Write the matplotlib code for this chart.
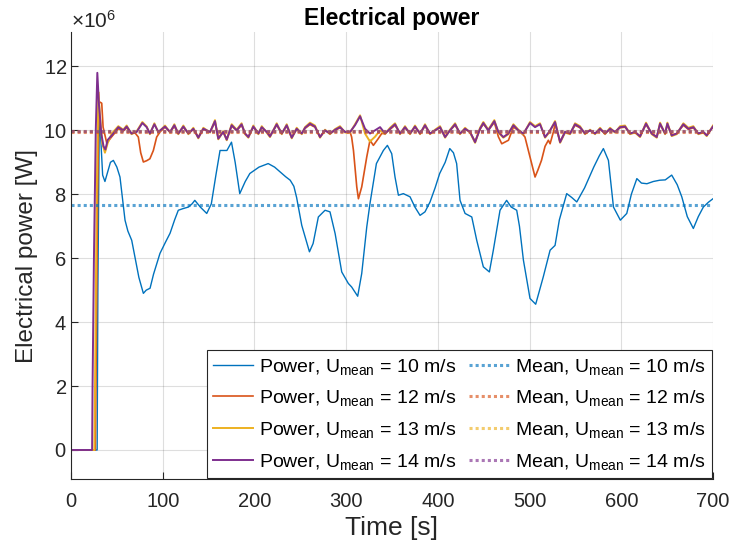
"""
Electrical power of the turbine for four mean wind speeds.
Values are in MW (scaled by 1e6 when drawn).
"""

import numpy as np
import matplotlib
matplotlib.use('Agg')
import matplotlib.pyplot as plt
from matplotlib.ticker import ScalarFormatter

# ─── Data ─────────────────────────────────────────────────────────────────────
# U_mean = 10 m/s
t10 = [0, 28.5, 29.3, 30.9, 32.5, 34.5, 37, 40, 43, 46.2, 50, 53.4, 56, 58.9,
       62, 66.2, 70, 74, 78.9, 82, 86.2, 90, 97, 103, 108, 113, 117, 122, 128,
       132, 135, 141, 148, 153, 158, 162.5, 170, 175, 179, 184, 190, 195, 205,
       215, 222, 228, 234, 239, 243, 246, 251.6, 256, 260, 264, 269.7, 277,
       282.4, 288, 295.2, 302.4, 306, 312.6, 317, 322.5, 326, 333, 340.6, 345,
       349.7, 353.3, 357, 362.4, 369.7, 375, 380.6, 386, 391.5, 397, 402, 408,
       413, 417, 420.5, 424.2, 429.7, 437, 442.4, 449.6, 456.2, 460.5, 467.8,
       475, 480, 486, 489, 493.3, 500.5, 506.7, 515, 522.4, 527.8, 532.5,
       540.5, 546, 551.5, 560, 570, 576, 580.5, 586, 591.5, 599, 606, 611, 617,
       622, 628, 635, 642, 648, 655, 661, 666, 672, 678.6, 684, 689.5, 695, 700]
p10 = [0, 0, 5.0, 10.5, 9.7, 8.6, 8.4, 8.7, 9.0, 9.06, 8.85, 8.54, 7.9, 7.19,
       6.85, 6.56, 6.0, 5.4, 4.9, 5.0, 5.06, 5.5, 6.15, 6.5, 6.78, 7.2, 7.5,
       7.55, 7.6, 7.7, 7.81, 7.6, 7.4, 7.7, 8.6, 9.37, 9.37, 9.63, 9.0, 8.02,
       8.4, 8.65, 8.85, 8.96, 8.85, 8.7, 8.55, 8.44, 8.25, 7.9, 7.03, 6.6, 6.2,
       6.46, 7.29, 7.5, 7.45, 6.77, 5.57, 5.21, 5.1, 4.81, 5.52, 6.98, 7.71,
       8.96, 9.37, 9.53, 9.27, 8.54, 7.97, 8.02, 7.92, 7.6, 7.34, 7.45, 7.76,
       8.2, 8.65, 9.0, 9.43, 9.3, 8.96, 7.81, 7.4, 7.29, 6.56, 5.73, 5.57, 6.25,
       7.5, 7.81, 7.6, 7.5, 7.0, 5.94, 4.74, 4.56, 5.42, 6.25, 6.4, 7.2, 8.02,
       7.9, 7.76, 8.2, 8.85, 9.2, 9.43, 9.06, 7.6, 7.19, 7.4, 8.0, 8.49, 8.35,
       8.33, 8.4, 8.44, 8.45, 8.6, 8.3, 7.92, 7.3, 6.93, 7.3, 7.6, 7.75, 7.86]

# U_mean = 12 m/s
t12 = [0, 26.5, 27.5, 29, 30.5, 33.5, 35, 39, 44.4, 51.6, 57, 60.7, 66, 69,
       73.4, 76, 78.9, 82.5, 86, 89.8, 93.4, 97, 102.5, 108, 112.7, 117, 122.5,
       128, 133.4, 138.8, 144.3, 151.6, 157, 160.6, 166, 169.8, 175.2, 180.7,
       186, 189.8, 193.4, 198.8, 204.3, 208, 213.4, 217, 224.3, 229.8, 235.2,
       240.7, 246.1, 251.6, 255.2, 260.6, 266, 271.5, 277, 282.4, 288, 293.3,
       298.8, 304.3, 306, 308, 311.6, 313.4, 317, 322.5, 326, 329.7, 335,
       338.8, 342.4, 347.9, 353.3, 358.8, 364.2, 369.7, 375.1, 380.6, 386,
       391.5, 397, 402.4, 407.9, 413.3, 418.8, 424.2, 429.7, 435.1, 440.6, 446,
       449.6, 455, 461.6, 466, 469.7, 477, 482.4, 487.8, 493.3, 495, 498.7,
       502, 506, 509, 513, 516.9, 520.5, 522.4, 526, 527.8, 533.3, 538.7,
       544.2, 549.6, 555, 560.5, 566, 571.4, 576.9, 582.3, 587.8, 593.2, 598.7,
       604.1, 609.6, 615, 620.5, 627, 633.2, 638.7, 642.3, 647.8, 650.3, 655,
       660.5, 667.7, 673.2, 678.6, 684.1, 689.5, 693.2, 700]
p12 = [0, 0, 3.0, 8.0, 10.9, 10.85, 10.1, 9.6, 9.8, 10.05, 9.98, 10.08, 9.9,
       9.95, 9.79, 9.3, 9.01, 9.05, 9.11, 9.37, 9.79, 9.95, 10.1, 9.95, 10.12,
       9.9, 10.1, 9.9, 10.03, 9.8, 10.03, 9.95, 10.25, 9.76, 9.95, 9.73, 10.13,
       10.0, 10.16, 9.9, 9.8, 10.1, 9.9, 10.08, 9.95, 9.83, 10.16, 9.9, 10.13,
       9.78, 10.03, 9.9, 10.06, 10.18, 10.1, 9.8, 10.0, 9.9, 10.0, 10.08, 9.95,
       9.95, 9.79, 9.37, 8.23, 7.86, 8.23, 9.17, 9.69, 9.53, 9.74, 9.9, 9.9,
       10.03, 10.16, 9.9, 10.08, 9.9, 10.1, 9.9, 10.13, 9.9, 10.0, 10.08, 9.8,
       10.0, 10.16, 9.9, 10.03, 9.95, 9.65, 10.03, 10.2, 10.0, 10.25, 9.8, 9.58,
       9.69, 10.1, 10.0, 9.85, 9.79, 9.37, 9.0, 8.54, 8.75, 9.06, 9.5, 9.69,
       9.58, 9.95, 10.2, 9.65, 9.95, 9.9, 10.16, 10.08, 9.9, 10.0, 9.9, 10.03,
       9.9, 10.03, 9.95, 10.08, 10.1, 9.9, 9.95, 9.82, 10.18, 9.9, 9.8, 10.18,
       9.9, 10.18, 9.85, 9.9, 10.16, 10.03, 10.08, 9.9, 9.95, 9.85, 10.1]

# U_mean = 13 m/s
t13 = [0, 25.5, 26.5, 28, 29.8, 31.5, 34, 37, 40, 44.4, 51.6, 57, 60.7, 66,
       71.6, 77.8, 82.5, 86, 90.9, 95.2, 102.5, 108, 112.7, 117, 122.5, 128,
       133.4, 138.8, 144.3, 151.6, 157, 160.6, 166, 169.8, 175.2, 180.7, 186,
       189.8, 193.4, 198.8, 204.3, 208, 213.4, 217, 224.3, 229.8, 235.2, 240.7,
       246.1, 251.6, 255.2, 260.6, 266, 271.5, 277, 282.4, 288, 293.3, 298.8,
       304.3, 309.7, 315.2, 320.6, 326, 331.5, 337, 342.4, 347.9, 353.3, 358.8,
       364.2, 369.7, 375.1, 380.6, 386, 391.5, 397, 402.4, 407.9, 413.3, 418.8,
       424.2, 429.7, 435.1, 440.6, 446, 449.6, 455, 461.6, 466, 471.4, 476.9,
       482.4, 487.8, 493.3, 500.5, 506, 511.4, 516.9, 521.3, 527.8, 533.3,
       538.7, 544.2, 549.6, 555, 560.5, 566, 571.4, 576.9, 582.3, 587.8, 593.2,
       598.7, 604.1, 609.6, 615, 620.5, 627, 633.2, 638.7, 642.3, 647.8, 650.3,
       655, 660.5, 667.7, 673.2, 678.6, 684.1, 689.5, 693.2, 700]
p13 = [0, 0, 3.0, 8.0, 11.2, 10.5, 9.6, 9.3, 9.6, 9.9, 10.13, 10.02, 10.15,
       9.88, 9.97, 10.26, 10.12, 9.88, 10.22, 9.93, 10.15, 9.93, 10.19, 9.88,
       10.15, 9.88, 10.08, 9.75, 10.08, 9.93, 10.32, 9.72, 9.97, 9.69, 10.19,
       10.02, 10.22, 9.88, 9.77, 10.15, 9.88, 10.13, 9.93, 9.79, 10.22, 9.88,
       10.19, 9.75, 10.08, 9.88, 10.1, 10.24, 10.15, 9.77, 10.02, 9.88, 10.04,
       10.13, 9.93, 9.93, 10.19, 10.47, 9.9, 9.65, 9.8, 10.0, 9.88, 10.08,
       10.22, 9.88, 10.13, 9.88, 10.15, 9.88, 10.19, 9.88, 10.02, 10.13, 9.77,
       10.02, 10.22, 9.88, 10.08, 9.93, 9.61, 10.08, 10.26, 10.02, 10.32, 9.93,
       9.77, 9.88, 10.19, 10.02, 9.88, 10.26, 10.13, 10.22, 9.77, 9.93, 10.29,
       9.61, 9.93, 9.88, 10.22, 10.13, 9.88, 10.02, 9.88, 10.08, 9.88, 10.08,
       9.93, 10.13, 10.15, 9.88, 9.93, 9.79, 10.24, 9.88, 9.77, 10.24, 9.88,
       10.24, 9.82, 9.88, 10.22, 10.08, 10.13, 9.88, 9.93, 9.82, 10.15]

# U_mean = 14 m/s
t14 = [0, 23, 23.5, 25, 27, 28.7, 30.5, 33, 35.5, 37.5, 40, 44.4, 51.6, 57,
       60.7, 66, 71.6, 77.8, 82.5, 86, 90.9, 95.2, 102.5, 108, 112.7, 117,
       122.5, 128, 133.4, 138.8, 144.3, 151.6, 157, 160.6, 166, 169.8, 175.2,
       180.7, 186, 189.8, 193.4, 198.8, 204.3, 208, 213.4, 217, 224.3, 229.8,
       235.2, 240.7, 246.1, 251.6, 255.2, 260.6, 266, 271.5, 277, 282.4, 288,
       293.3, 298.8, 304.3, 309.7, 315.2, 320.6, 326, 331.5, 337, 342.4, 347.9,
       353.3, 358.8, 364.2, 369.7, 375.1, 380.6, 386, 391.5, 397, 402.4, 407.9,
       413.3, 418.8, 424.2, 429.7, 435.1, 440.6, 446, 449.6, 455, 461.6, 466,
       471.4, 476.9, 482.4, 487.8, 493.3, 500.5, 506, 511.4, 516.9, 521.3,
       527.8, 533.3, 538.7, 544.2, 549.6, 555, 560.5, 566, 571.4, 576.9, 582.3,
       587.8, 593.2, 598.7, 604.1, 609.6, 615, 620.5, 627, 633.2, 638.7, 642.3,
       647.8, 650.3, 655, 660.5, 667.7, 673.2, 678.6, 684.1, 689.5, 693.2, 700]
p14 = [0, 0, 2.0, 6.0, 10.0, 11.8, 10.8, 9.9, 9.5, 9.4, 9.7, 9.84, 10.1, 10.0,
       10.12, 9.9, 9.95, 10.23, 10.1, 9.9, 10.19, 9.95, 10.12, 9.95, 10.16, 9.9,
       10.12, 9.9, 10.05, 9.77, 10.05, 9.95, 10.29, 9.74, 9.95, 9.71, 10.16,
       10.0, 10.19, 9.9, 9.79, 10.12, 9.9, 10.1, 9.95, 9.81, 10.19, 9.9, 10.16,
       9.77, 10.05, 9.9, 10.08, 10.21, 10.12, 9.79, 10.0, 9.9, 10.02, 10.1,
       9.95, 9.95, 10.16, 10.44, 10.05, 9.9, 10.0, 10.1, 9.9, 10.05, 10.19, 9.9,
       10.1, 9.9, 10.12, 9.9, 10.16, 9.9, 10.0, 10.1, 9.79, 10.0, 10.19, 9.9,
       10.05, 9.95, 9.63, 10.05, 10.23, 10.0, 10.29, 9.95, 9.79, 9.9, 10.16,
       10.0, 9.9, 10.23, 10.1, 10.19, 9.79, 9.95, 10.26, 9.63, 9.95, 9.9, 10.19,
       10.1, 9.9, 10.0, 9.9, 10.05, 9.9, 10.05, 9.95, 10.1, 10.12, 9.9, 9.95,
       9.81, 10.21, 9.9, 9.79, 10.21, 9.9, 10.21, 9.84, 9.9, 10.19, 10.05,
       10.1, 9.9, 9.95, 9.84, 10.12]

speeds = [10, 12, 13, 14]
mean_power = [7.65, 9.95, 9.98, 9.99]   # MW

COLORS = ['#0072BD', '#D95319', '#EDB120', '#7E2F8E']
LINE_W = [1.0, 1.2, 1.4, 1.4]

# ─── Style ────────────────────────────────────────────────────────────────────
plt.rcParams['font.family'] = ['Liberation Sans', 'DejaVu Sans']
plt.rcParams['mathtext.fontset'] = 'custom'
plt.rcParams['mathtext.rm'] = 'Liberation Sans'
plt.rcParams['mathtext.it'] = 'Liberation Sans:italic'
plt.rcParams['mathtext.bf'] = 'Liberation Sans:bold'

fig = plt.figure(figsize=(7.32, 5.46), dpi=100)
ax = fig.add_axes([0.097, 0.122, 0.877, 0.819])

# ─── Plot ─────────────────────────────────────────────────────────────────────
series = [(t10, p10), (t12, p12), (t13, p13), (t14, p14)]
for (t, p), u, c, lw in zip(series, speeds, COLORS, LINE_W):
    ax.plot(t, np.array(p) * 1e6, color=c, linewidth=lw,
            label=r'Power, U$_{\mathrm{mean}}$ = %d m/s' % u)

for m, u, c in zip(mean_power, speeds, COLORS):
    ax.axhline(m * 1e6, color=c, linestyle=(0, (1, 1)), linewidth=2.2,
               alpha=0.65, label=r'Mean, U$_{\mathrm{mean}}$ = %d m/s' % u)

ax.set_xlim(0, 700)
ax.set_ylim(-0.92e6, 13.07e6)
ax.set_xticks(np.arange(0, 701, 100))
ax.set_yticks(np.arange(0, 12.1e6, 2e6))

fmt = ScalarFormatter(useMathText=True)
fmt.set_powerlimits((6, 6))
ax.yaxis.set_major_formatter(fmt)
off = ax.yaxis.get_offset_text()
off.set_fontsize(15)
off.set_color('#262626')

ax.grid(True, color='#262626', alpha=0.15, linewidth=0.8)
ax.set_axisbelow(True)
ax.tick_params(direction='in', labelsize=14.5, colors='#262626', length=5,
               width=0.8)
ax.tick_params(axis='y', pad=3)
ax.tick_params(axis='x', pad=9)
ax.spines['top'].set_visible(False)
ax.spines['right'].set_visible(False)
for s in ('left', 'bottom'):
    ax.spines[s].set_color('#262626')
    ax.spines[s].set_linewidth(0.8)

ax.set_xlabel('Time [s]', fontsize=19, color='#262626', labelpad=4)
ax.set_ylabel('Electrical power [W]', fontsize=17.5, color='#262626')
ax.yaxis.set_label_coords(-0.051, 0.5)
ax.set_title('Electrical power', fontsize=16.5, fontweight='bold', pad=5)

leg = ax.legend(ncol=2, loc='lower right', fontsize=14, frameon=True,
                fancybox=False, edgecolor='#262626', framealpha=1.0,
                borderaxespad=0.05, handlelength=2.05, handletextpad=0.3,
                columnspacing=0.65, labelspacing=0.6, borderpad=0.35)
leg.get_frame().set_linewidth(0.8)

plt.savefig('out.png', dpi=100)
plt.close()
